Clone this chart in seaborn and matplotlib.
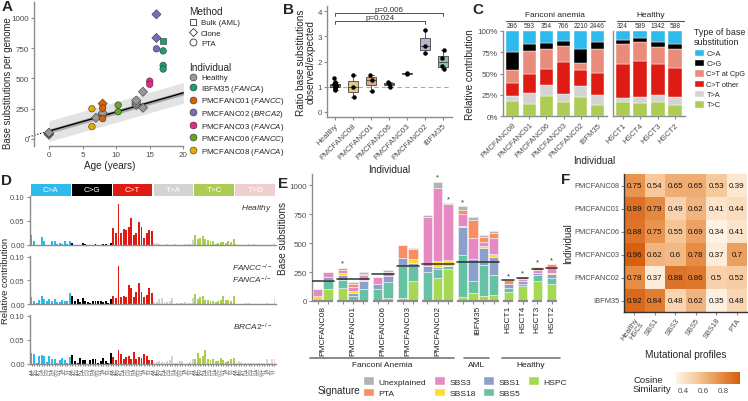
import numpy as np
import pandas as pd
import matplotlib
matplotlib.use('Agg')
import matplotlib.pyplot as plt
import matplotlib.transforms as mtrans
import seaborn as sns
from matplotlib.colors import LinearSegmentedColormap, to_rgb
from matplotlib.lines import Line2D
from matplotlib.patches import Patch, Rectangle

sns.set_theme(style='ticks')
plt.rcParams['font.family'] = ['Liberation Sans', 'DejaVu Sans']
plt.rcParams['mathtext.fontset'] = 'custom'
plt.rcParams['mathtext.rm'] = 'Liberation Sans'
plt.rcParams['mathtext.it'] = 'Liberation Sans:italic'

W, H = 748, 402
AXC = '#8c8c8c'
TXC = '#4d4d4d'

# ---------------- data: A
a_individual = ['Healthy'] * 11 + ['IBFM35'] * 4 + ['PMCFANC01'] * 3 + ['PMCFANC02'] * 3 \
    + ['PMCFANC03'] * 2 + ['PMCFANC06'] * 2 + ['PMCFANC08'] * 2
a_method = ['Clone'] * 11 + ['Bulk (AML)'] + ['PTA'] * 3 + ['Clone'] + ['PTA'] * 2 \
    + ['Clone'] * 2 + ['PTA'] + ['PTA'] * 2 + ['PTA'] * 2 + ['PTA'] * 2
a_age = [0, 0, 0, 7, 8, 8, 13, 13, 13, 14, 14, 17, 17, 17, 17, 8, 8, 8,
         16, 16, 16, 15, 15, 10.3, 10.3, 6.4, 6.4]
a_sbs = [35, 45, 52, 175, 200, 215, 280, 298, 318, 390, 258, 810, 728, 608, 578,
         292, 255, 168, 1030, 835, 745, 478, 452, 280, 225, 250, 102]
a_fit_intercept = 65
a_fit_slope = 15.8
a_ci_half = 18
a_pi_half = 85

ind_colors = {'Healthy': '#999999', 'IBFM35': '#1B9E77', 'PMCFANC01': '#D95F02',
              'PMCFANC02': '#7570B3', 'PMCFANC03': '#E7298A', 'PMCFANC06': '#66A61E',
              'PMCFANC08': '#E6AB02'}
ind_gene = {'IBFM35': 'FANCA', 'PMCFANC01': 'FANCC', 'PMCFANC02': 'BRCA2',
            'PMCFANC03': 'FANCA', 'PMCFANC06': 'FANCC', 'PMCFANC08': 'FANCA'}
method_markers = {'Bulk (AML)': 's', 'Clone': 'D', 'PTA': 'o'}

# ---------------- data: B
b_order = ['Healthy', 'PMCFANC08', 'PMCFANC01', 'PMCFANC06', 'PMCFANC03', 'PMCFANC02', 'IBFM35']
b_healthy = [0.88, 0.92, 0.97, 1.0, 1.02, 1.05, 1.07, 1.1, 1.12, 1.2, 1.35]
b_fanc08 = [0.6, 1.0, 1.45]
b_fanc01 = [0.83, 1.28, 1.48]
b_fanc06 = [1.0, 1.1, 1.2]
b_fanc03 = [1.5, 1.55]
b_fanc02 = [2.35, 2.6, 3.25]
b_ibfm35 = [1.72, 1.82, 2.15, 2.45]

# ---------------- data: C
c_samples_fa = ['PMCFANC08', 'PMCFANC01', 'PMCFANC06', 'PMCFANC03', 'PMCFANC02', 'IBFM35']
c_samples_h = ['HSCT1', 'HSCT4', 'HSCT3', 'HSCT2']
c_counts = [286, 593, 354, 766, 2210, 2446, 324, 589, 1342, 588]
c_types = ['T>C', 'T>A', 'C>T other', 'C>T at CpG', 'C>G', 'C>A']
c_TC = [0.18, 0.145, 0.235, 0.17, 0.22, 0.135, 0.165, 0.155, 0.17, 0.135]
c_TA = [0.06, 0.13, 0.135, 0.085, 0.13, 0.115, 0.045, 0.065, 0.08, 0.09]
c_CTo = [0.15, 0.225, 0.185, 0.375, 0.19, 0.26, 0.405, 0.43, 0.36, 0.345]
c_CpG = [0.155, 0.265, 0.23, 0.19, 0.085, 0.28, 0.23, 0.22, 0.2, 0.22]
c_CG = [0.205, 0.08, 0.075, 0.06, 0.16, 0.08, 0.05, 0.05, 0.06, 0.055]
c_CA = [0.25, 0.155, 0.14, 0.12, 0.215, 0.13, 0.105, 0.08, 0.13, 0.155]
c_colors = {'C>A': '#2EBAED', 'C>G': '#000000', 'C>T at CpG': '#E98C7B',
            'C>T other': '#DE1C14', 'T>A': '#D4D2D2', 'T>C': '#ADCC54'}

# ---------------- data: D (96 profiles)
d_types = ['C>A', 'C>G', 'C>T', 'T>A', 'T>C', 'T>G']
d_colors = ['#2EBAED', '#000000', '#DE1C14', '#D4D2D2', '#ADCC54', '#F0D0CE']
d_healthy = [
    0.020, 0.008, 0.001, 0.001, 0.016, 0.008, 0.001, 0.001, 0.009, 0.009, 0.003, 0.004, 0.002, 0.009, 0.002, 0.009,
    0.005, 0.001, 0.001, 0.001, 0.004, 0.003, 0.001, 0.001, 0.001, 0.002, 0.001, 0.001, 0.003, 0.003, 0.001, 0.004,
    0.035, 0.024, 0.085, 0.025, 0.034, 0.032, 0.038, 0.056, 0.021, 0.025, 0.047, 0.037, 0.015, 0.024, 0.031, 0.029,
    0.004, 0.004, 0.003, 0.001, 0.001, 0.002, 0.001, 0.001, 0.003, 0.001, 0.001, 0.001, 0.003, 0.003, 0.002, 0.010,
    0.021, 0.012, 0.015, 0.018, 0.012, 0.011, 0.009, 0.008, 0.003, 0.005, 0.006, 0.006, 0.005, 0.008, 0.006, 0.013,
    0.002, 0.001, 0.001, 0.001, 0.001, 0.002, 0.001, 0.002, 0.001, 0.001, 0.001, 0.001, 0.001, 0.001, 0.001, 0.004]
d_fanc = [
    0.015, 0.006, 0.003, 0.008, 0.016, 0.010, 0.006, 0.010, 0.006, 0.010, 0.005, 0.005, 0.009, 0.006, 0.006, 0.024,
    0.016, 0.007, 0.011, 0.005, 0.012, 0.007, 0.005, 0.003, 0.007, 0.007, 0.006, 0.006, 0.004, 0.006, 0.002, 0.010,
    0.018, 0.013, 0.081, 0.014, 0.016, 0.015, 0.040, 0.033, 0.015, 0.025, 0.045, 0.026, 0.014, 0.020, 0.035, 0.024,
    0.004, 0.005, 0.010, 0.012, 0.004, 0.005, 0.006, 0.013, 0.001, 0.003, 0.002, 0.003, 0.004, 0.002, 0.003, 0.013,
    0.022, 0.010, 0.015, 0.016, 0.009, 0.009, 0.007, 0.006, 0.004, 0.006, 0.009, 0.016, 0.009, 0.009, 0.007, 0.016,
    0.001, 0.001, 0.001, 0.001, 0.002, 0.002, 0.001, 0.001, 0.001, 0.001, 0.001, 0.001, 0.002, 0.001, 0.001, 0.010]
d_brca2 = [
    0.023, 0.020, 0.003, 0.017, 0.018, 0.017, 0.004, 0.016, 0.011, 0.011, 0.003, 0.009, 0.013, 0.009, 0.003, 0.015,
    0.018, 0.006, 0.002, 0.012, 0.009, 0.008, 0.001, 0.009, 0.010, 0.010, 0.003, 0.006, 0.012, 0.006, 0.002, 0.022,
    0.014, 0.009, 0.030, 0.021, 0.011, 0.014, 0.017, 0.010, 0.025, 0.011, 0.015, 0.013, 0.020, 0.017, 0.008, 0.009,
    0.003, 0.004, 0.007, 0.005, 0.004, 0.007, 0.009, 0.016, 0.002, 0.003, 0.006, 0.007, 0.001, 0.003, 0.005, 0.010,
    0.011, 0.022, 0.012, 0.016, 0.030, 0.011, 0.008, 0.010, 0.006, 0.007, 0.012, 0.008, 0.005, 0.006, 0.010, 0.012,
    0.002, 0.007, 0.004, 0.003, 0.003, 0.003, 0.003, 0.003, 0.002, 0.003, 0.003, 0.003, 0.011, 0.003, 0.010, 0.010]
d_bases = ['A', 'C', 'G', 'T']

# ---------------- data: E
e_groups = ['PMCFANC08', 'PMCFANC01', 'PMCFANC06', 'PMCFANC03', 'PMCFANC02', 'IBFM35',
            'HSCT1', 'HSCT4', 'HSCT3', 'HSCT2']
e_group_size = [2, 3, 2, 2, 3, 4, 1, 1, 1, 1]
e_expected = [172, 193, 230, 302, 318, 337, 179, 196, 274, 288]
e_HSPC = [0, 100, 115, 12, 8, 0, 25, 25, 170, 0, 200, 280, 35, 65, 43, 55, 78, 130, 170, 145]
e_SBS5 = [0, 85, 70, 28, 92, 100, 140, 280, 130, 250, 75, 20, 365, 107, 267, 170, 37, 20, 52, 50]
e_SBS1 = [0, 20, 40, 30, 70, 45, 50, 65, 30, 50, 20, 0, 235, 190, 145, 158, 29, 23, 23, 40]
e_SBS18 = [40, 0, 20, 15, 15, 0, 0, 0, 30, 0, 50, 55, 10, 0, 15, 20, 0, 0, 0, 10]
e_SBS3 = [62, 45, 25, 40, 40, 65, 35, 0, 0, 420, 625, 485, 105, 180, 35, 139, 0, 14, 20, 45]
e_PTA = [0, 0, 12, 22, 12, 0, 0, 110, 85, 0, 0, 0, 35, 158, 48, 48, 35, 20, 32, 25]
e_Unexplained = [0, 0, 5, 15, 13, 0, 20, 0, 10, 20, 60, 5, 30, 25, 20, 15, 0, 0, 0, 5]
e_star = [0, 0, 1, 0, 0, 0, 0, 0, 0, 0, 1, 1, 1, 0, 0, 0, 1, 1, 1, 1]
e_sig_colors = {'HSPC': '#A6D854', 'SBS5': '#66C2A5', 'SBS1': '#8DA0CB', 'SBS18': '#FFD92F',
                'SBS3': '#E78AC3', 'PTA': '#FC8D62', 'Unexplained': '#B3B3B3'}

# ---------------- data: F
f_rows = ['PMCFANC08', 'PMCFANC01', 'PMCFANC06', 'PMCFANC03', 'PMCFANC02', 'IBFM35']
f_cols = ['Healthy\nHSCs', 'SBS1', 'SBS3', 'SBS5', 'SBS18', 'PTA']
f_values = [[0.75, 0.54, 0.65, 0.65, 0.53, 0.39],
            [0.89, 0.79, 0.49, 0.62, 0.41, 0.44],
            [0.88, 0.75, 0.55, 0.69, 0.34, 0.41],
            [0.96, 0.62, 0.60, 0.78, 0.37, 0.70],
            [0.78, 0.37, 0.88, 0.86, 0.50, 0.52],
            [0.92, 0.84, 0.48, 0.62, 0.35, 0.48]]


def box(x0, y0, x1, y1):
    return [x0 / W, 1 - y1 / H, (x1 - x0) / W, (y1 - y0) / H]


def style(ax, fs=5.8):
    for s in ['top', 'right']:
        ax.spines[s].set_visible(False)
    for s in ['left', 'bottom']:
        ax.spines[s].set_color(AXC)
        ax.spines[s].set_linewidth(1.0)
    ax.tick_params(colors=AXC, labelcolor=TXC, labelsize=fs, length=2.5, width=0.8, pad=1.2)


def figline(x0, x1, y, color='#555555', lw=0.8):
    fig.add_artist(Line2D([x0 / W, x1 / W], [1 - y / H, 1 - y / H], color=color, lw=lw))


def lighten(c, f):
    r = np.array(to_rgb(c))
    return tuple(r + (1 - r) * f)


fig = plt.figure(figsize=(W / 100, H / 100), dpi=100)

# ======================= Panel A
axA = fig.add_axes(box(34, 3, 186, 147))
axA.set_xlim(-2.22, 20.4)
axA.set_ylim(-58, 1132)
xs = np.linspace(0, 20, 50)
ys = a_fit_intercept + a_fit_slope * xs
axA.fill_between(xs, ys - a_pi_half, ys + a_pi_half, color='#e3e3e3', lw=0, zorder=0)
axA.fill_between(xs, ys - a_ci_half, ys + a_ci_half, color='#a9a9a9', lw=0, zorder=1)
axA.plot(xs, ys, color='black', lw=1.0, zorder=2)
xd = np.array([-3.0, 0])
axA.plot(xd, a_fit_intercept + a_fit_slope * xd, color='black', lw=0.8, ls=':', clip_on=False)
dfA = pd.DataFrame({'Age': a_age, 'SBS': a_sbs, 'Individual': a_individual, 'Method': a_method})
sns.scatterplot(data=dfA, x='Age', y='SBS', hue='Individual', style='Method', palette=ind_colors,
                markers=method_markers, s=22, edgecolor='#333333', linewidth=0.4,
                legend=False, ax=axA, zorder=3)
style(axA)
axA.spines['bottom'].set_bounds(0, 20)
axA.set_xticks([0, 5, 10, 15, 20])
axA.set_yticks([0, 250, 500, 750, 1000])
axA.set_xlabel('Age (years)', fontsize=7.2, labelpad=1.5)
axA.set_ylabel('Base substitutions per genome', fontsize=6.9)
axA.yaxis.set_label_coords(-0.14, 0.44)

meth_h = [Line2D([], [], marker=method_markers[m], ls='', mfc='white', mec='#333333', mew=0.6,
                 ms=5.0 if m != 'Clone' else 4.2) for m in method_markers]
legM = fig.legend(meth_h, list(method_markers), loc='upper left', bbox_to_anchor=(186 / W, 1 - 4 / H),
                  title='Method', fontsize=5.7, title_fontsize=7.2, frameon=False,
                  handlelength=1.0, handletextpad=0.5, labelspacing=0.35, borderaxespad=0)
legM._legend_box.align = 'left'
ind_labels = []
for k in ind_colors:
    if k in ind_gene:
        ind_labels.append(k + ' ($\\mathit{' + ind_gene[k] + '}$)')
    else:
        ind_labels.append(k)
ind_h = [Line2D([], [], marker='o', ls='', mfc=ind_colors[k], mec='#333333', mew=0.4, ms=5.0)
         for k in ind_colors]
legI = fig.legend(ind_h, ind_labels, loc='upper left', bbox_to_anchor=(186 / W, 1 - 60 / H),
                  title='Individual', fontsize=5.7, title_fontsize=7.2, frameon=False,
                  handlelength=1.0, handletextpad=0.5, labelspacing=0.2, borderaxespad=0)
legI._legend_box.align = 'left'

# ======================= Panel B
axB = fig.add_axes(box(327, 7, 452, 118))
b_vals = [b_healthy, b_fanc08, b_fanc01, b_fanc06, b_fanc03, b_fanc02, b_ibfm35]
dfB = pd.DataFrame({'Individual': np.repeat(b_order, [len(v) for v in b_vals]),
                    'Ratio': np.concatenate(b_vals)})
b_pal = {k: lighten(ind_colors[k], 0.45) for k in b_order}
b_pal['Healthy'] = '#8f8f8f'
axB.axhline(1, color='#aaaaaa', lw=0.8, ls=(0, (4, 3)), zorder=0)
sns.boxplot(data=dfB, x='Individual', y='Ratio', order=b_order, hue='Individual', palette=b_pal,
            width=0.55, linewidth=0.6, linecolor='#444444', showfliers=False, ax=axB, legend=False)
sns.stripplot(data=dfB, x='Individual', y='Ratio', order=b_order, color='black', size=3.2,
              jitter=0.06, ax=axB, zorder=4)
axB.set_xlim(-0.45, 6.5)
axB.set_ylim(-0.2, 4.2)
style(axB)
axB.set_yticks([0, 1, 2, 3, 4])
axB.set_xticks(range(7))
axB.set_xticklabels(b_order, rotation=45, ha='right', rotation_mode='anchor')
axB.set_xlabel('Individual', fontsize=7.2, labelpad=2)
axB.set_ylabel('Ratio base substitutions\nobserved/expected', fontsize=7.2, labelpad=1, linespacing=1.0)
for xa, xb, yb, lab in [(0, 5, 3.6, 'p=0.024'), (0, 6, 3.92, 'p=0.006')]:
    axB.plot([xa, xa, xb, xb], [yb - 0.12, yb, yb, yb - 0.12], color='#333333', lw=0.6, clip_on=False)
    axB.text((xa + xb) / 2, yb + 0.02, lab, ha='center', va='bottom', fontsize=5.8, color='#333333')

# ======================= Panel C
c_stack = [c_TC, c_TA, c_CTo, c_CpG, c_CG, c_CA]
axC1 = fig.add_axes(box(503, 32, 607, 117))
axC2 = fig.add_axes(box(613, 32, 685, 117))
for ax, names, off in [(axC1, c_samples_fa, 0), (axC2, c_samples_h, len(c_samples_fa))]:
    bottom = np.zeros(len(names))
    xpos = np.arange(len(names))
    for t, vals in zip(c_types, c_stack):
        v = np.array(vals[off:off + len(names)])
        ax.bar(xpos, v, bottom=bottom, width=0.78, color=c_colors[t], edgecolor='white', linewidth=0.3)
        bottom += v
    for i, n in enumerate(c_counts[off:off + len(names)]):
        ax.text(i, 1.025, str(n), ha='center', va='bottom', fontsize=4.8, color='#333333', clip_on=False)
    ax.set_xlim(-0.55, len(names) - 0.45)
    ax.set_ylim(0, 1.0)
    style(ax)
    ax.set_xticks(xpos)
    ax.set_xticklabels(names, rotation=45, ha='right', rotation_mode='anchor', fontsize=5.6)
axC1.set_yticks([0, 0.25, 0.5, 0.75, 1.0])
axC1.set_yticklabels(['0%', '25%', '50%', '75%', '100%'])
axC2.set_yticks([0, 0.25, 0.5, 0.75, 1.0])
axC2.set_yticklabels([])
axC2.tick_params(axis='y', length=0)
axC1.set_ylabel('Relative contribution', fontsize=7.2, labelpad=2)
fig.text(594 / W, 1 - 166 / H, 'Individual', ha='center', va='bottom', fontsize=7.2)
fig.text(555 / W, 1 - 19 / H, 'Fanconi anemia', ha='center', va='bottom', fontsize=6.0)
figline(506, 605, 22)
fig.text(651 / W, 1 - 19 / H, 'Healthy', ha='center', va='bottom', fontsize=6.0)
figline(617, 684, 22)
c_leg_order = ['C>A', 'C>G', 'C>T at CpG', 'C>T other', 'T>A', 'T>C']
legC = fig.legend([Patch(facecolor=c_colors[t], edgecolor='white') for t in c_leg_order], c_leg_order,
                  loc='upper left', bbox_to_anchor=(691 / W, 1 - 25 / H), title='Type of base\nsubstitution',
                  fontsize=5.3, title_fontsize=6.4, frameon=False, handlelength=1.3, handleheight=1.15,
                  handletextpad=0.4, labelspacing=0.3, borderaxespad=0)
legC._legend_box.align = 'left'

# ======================= Panel D
contexts = [b5 + '.' + b3 for b5 in d_bases for b3 in d_bases] * 6
bar_cols = np.repeat(d_colors, 16)
axS = fig.add_axes(box(30, 185, 276, 197))
axS.set_xlim(-0.6, 95.6)
axS.set_ylim(0, 1)
axS.axis('off')
for i, (t, c) in enumerate(zip(d_types, d_colors)):
    axS.add_patch(Rectangle((i * 16 - 0.3, 0), 15.6, 1, color=c, lw=0))
    axS.text(i * 16 + 7.5, 0.5, t, ha='center', va='center', color='white', fontsize=5.8)
rows = [(d_healthy, 197, 246, '$\\mathit{Healthy}$'),
        (d_fanc, 257, 305, '$\\mathit{FANCC}^{-/-}$\n$\\mathit{FANCA}^{-/-}$'),
        (d_brca2, 316, 365, '$\\mathit{BRCA2}^{-/-}$')]
for k, (vals, yt, yb, lab) in enumerate(rows):
    ax = fig.add_axes(box(30, yt, 276, yb))
    ax.bar(np.arange(96), vals, width=0.75, color=bar_cols, lw=0)
    ax.set_xlim(-0.6, 95.6)
    ax.set_ylim(0, 0.102)
    style(ax, fs=5.5)
    ax.set_yticks([0, 0.05, 0.10])
    ax.set_yticklabels(['0.00', '0.05', '0.10'])
    ax.set_xticks(np.arange(96))
    if k == 2:
        ax.set_xticklabels(contexts, rotation=90, fontsize=3.0)
        ax.tick_params(axis='x', length=1.2, pad=1)
    else:
        ax.set_xticklabels([])
        ax.tick_params(axis='x', length=0)
    ax.text(0.985, 0.88, lab, transform=ax.transAxes, ha='right', va='top', fontsize=6.0,
            color='#333333', linespacing=1.1)
    if k == 1:
        ax.set_ylabel('Relative contribution', fontsize=6.8)
        ax.yaxis.set_label_coords(-0.081, 0.5)

# ======================= Panel E
axE = fig.add_axes(box(312, 175, 558, 302))
pos = []
centers = []
xcur = 0.0
for n in e_group_size:
    grp = [xcur + j for j in range(n)]
    pos += grp
    centers.append(np.mean(grp))
    xcur += n - 1 + 1.41
pos = np.array(pos)
e_order = ['HSPC', 'SBS5', 'SBS1', 'SBS18', 'SBS3', 'PTA', 'Unexplained']
e_data = {'HSPC': e_HSPC, 'SBS5': e_SBS5, 'SBS1': e_SBS1, 'SBS18': e_SBS18,
          'SBS3': e_SBS3, 'PTA': e_PTA, 'Unexplained': e_Unexplained}
bottom = np.zeros(len(pos))
for s in e_order:
    v = np.array(e_data[s], dtype=float)
    axE.bar(pos, v, bottom=bottom, width=0.9, color=e_sig_colors[s], edgecolor='#f4f4f4', linewidth=0.4)
    bottom += v
for p, tot, st in zip(pos, bottom, e_star):
    if st:
        axE.text(p, tot + 8, '*', ha='center', va='bottom', fontsize=5.5, color='#333333')
i0 = 0
for n, ex in zip(e_group_size, e_expected):
    a, b = pos[i0] - 0.5, pos[i0 + n - 1] + 0.5
    axE.plot([a - 0.05, b + 0.05], [ex, ex], color='#222222', lw=1.2, alpha=0.85, zorder=5)
    axE.plot([a, b], [0, 0], color=AXC, lw=1.6, clip_on=False, zorder=6, solid_capstyle='butt')
    i0 += n
axE.set_xlim(-0.55, pos[-1] + 0.6)
axE.set_ylim(0, 1095)
style(axE)
axE.spines['bottom'].set_visible(False)
axE.set_yticks([0, 250, 500, 750, 1000])
axE.set_xticks(pos)
axE.set_xticklabels([])
axE.tick_params(axis='x', length=1.8)
trE = mtrans.blended_transform_factory(axE.transData, axE.transAxes)
for c, g in zip(centers, e_groups):
    axE.text(c, -0.03, g, transform=trE, rotation=90, ha='center', va='top', fontsize=6.0, color='#222222')
axE.set_ylabel('Base substitions', fontsize=7.2, labelpad=1)
for xa, xb, lab in [(310, 454, 'Fanconi Anemia'), (464, 489, 'AML'), (502, 560, 'Healthy')]:
    figline(xa, xb, 359, color='#777777', lw=1.2)
    fig.text((xa + xb) / 2 / W, 1 - 362 / H, lab, ha='center', va='top', fontsize=6.0, color='#222222')
e_leg = ['Unexplained', 'PTA', 'SBS3', 'SBS18', 'SBS1', 'SBS5', 'HSPC']
fig.legend([Patch(facecolor=e_sig_colors[s], edgecolor='white') for s in e_leg], e_leg,
           loc='upper left', bbox_to_anchor=(360 / W, 1 - 374 / H), ncol=4, fontsize=6.1,
           frameon=False, handlelength=1.3, handleheight=1.2, handletextpad=0.5,
           columnspacing=0.9, labelspacing=0.25, borderaxespad=0)
fig.text(318 / W, 1 - 391 / H, 'Signature', ha='left', va='center', fontsize=7.2)

# ======================= Panel F
axF = fig.add_axes(box(624, 175, 747, 313))
caxF = fig.add_axes(box(676, 373, 740, 385))
cmapF = LinearSegmentedColormap.from_list('cos', ['#FFF4E6', '#F6C79A', '#E8924C', '#D55E0E'])
dfF = pd.DataFrame(f_values, index=f_rows, columns=f_cols)
sns.heatmap(dfF, ax=axF, cmap=cmapF, vmin=0.33, vmax=0.97, annot=True, fmt='g',
            annot_kws={'fontsize': 5.8, 'color': '#111111'}, cbar_ax=caxF,
            cbar_kws={'orientation': 'horizontal', 'ticks': [0.4, 0.6, 0.8]})
for s in ['left', 'bottom']:
    axF.spines[s].set_visible(True)
    axF.spines[s].set_color('#333333')
    axF.spines[s].set_linewidth(1.0)
axF.tick_params(colors=AXC, labelcolor=TXC, labelsize=5.4, length=2.0, width=0.8, pad=1.0)
axF.set_yticklabels(f_rows, rotation=0)
axF.set_xticklabels(f_cols, rotation=55, ha='right', rotation_mode='anchor', linespacing=0.9)
axF.set_xlabel('Mutational profiles', fontsize=7.2, labelpad=3)
axF.set_ylabel('Individual', fontsize=7.0, labelpad=1.5)
caxF.tick_params(labelsize=5.8, labelcolor=TXC, length=2.5, color='white', direction='in', pad=2)
caxF.xaxis.set_ticks_position('bottom')
for s in caxF.spines.values():
    s.set_visible(False)
fig.text(633 / W, 1 - 385 / H, 'Cosine\nSimilarity', ha='left', va='center', fontsize=6.8, linespacing=1.0)

# ======================= panel letters
for lab, x, y in [('A', 2, 0), ('B', 283, 3), ('C', 472, 3), ('D', 1, 174), ('E', 278, 177), ('F', 561, 173)]:
    fig.text(x / W, 1 - y / H, lab, ha='left', va='top', fontsize=11, fontweight='bold')

fig.savefig('out.png', dpi=100)
